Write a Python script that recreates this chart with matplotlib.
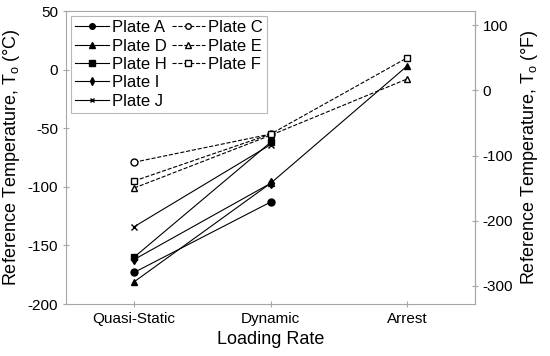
import numpy as np
import matplotlib.pyplot as plt
from matplotlib.lines import Line2D

plt.rcParams['font.family'] = ['Liberation Sans', 'DejaVu Sans']
plt.rcParams['axes.unicode_minus'] = False

rates = ['Quasi-Static', 'Dynamic', 'Arrest']

# solid series (reference temperature, deg C)
plate_a = [-173, -113]
plate_d = [-181, -97, 3]
plate_h = [-160, -62]
plate_i = [-162, -97]
plate_j = [-134, -64]
# dashed series
plate_c = [-79, -55]
plate_e = [-101, -56, -8]
plate_f = [-95, -55, 10]

gray = '#a6a6a6'

fig, ax = plt.subplots(figsize=(5.5, 3.56), dpi=100)
fig.subplots_adjust(left=0.12, right=0.864, top=0.969, bottom=0.146)

x = np.arange(1, 4)
kw = dict(color='k', lw=0.8, ms=5)
la, = ax.plot(x[:2], plate_a, marker='o', label='Plate A', **kw)
lc, = ax.plot(x[:2], plate_c, marker='o', mfc='white', ls='--', label='Plate C', **kw)
ld, = ax.plot(x, plate_d, marker='^', label='Plate D', **kw)
le, = ax.plot(x, plate_e, marker='^', mfc='white', ls='--', label='Plate E', **kw)
lh, = ax.plot(x[:2], plate_h, marker='s', label='Plate H', **kw)
lf, = ax.plot(x, plate_f, marker='s', mfc='white', ls='--', label='Plate F', **kw)
li, = ax.plot(x[:2], plate_i, marker='d', label='Plate I', **kw)
lj, = ax.plot(x[:2], plate_j, marker='x', color='k', lw=0.8, ms=4, label='Plate J')

ax.set_xlim(0.5, 3.5)
ax.set_ylim(-200, 50)
ax.set_xticks(x)
ax.set_xticklabels(rates)
ax.set_yticks(np.arange(-200, 51, 50))
ax.set_xlabel('Loading Rate', fontsize=13)
ax.set_ylabel('Reference Temperature, T$_\\mathregular{o}$ (°C)', fontsize=13)
ax.tick_params(labelsize=11, color=gray, length=4, direction='inout')
for s in ax.spines.values():
    s.set_color(gray)

sec = ax.secondary_yaxis('right', functions=(lambda c: c * 9 / 5 + 32,
                                             lambda f: (f - 32) * 5 / 9))
sec.set_yticks([100, 0, -100, -200, -300])
sec.set_ylabel('Reference Temperature, T$_\\mathregular{o}$ (°F)', fontsize=13)
sec.tick_params(labelsize=11, color=gray, length=4, direction='inout')
sec.spines['right'].set_color(gray)

blank = Line2D([], [], ls='none')
handles = [la, ld, lh, li, lj, lc, le, lf, blank, blank]
labels = ['Plate A', 'Plate D', 'Plate H', 'Plate I', 'Plate J',
          'Plate C', 'Plate E', 'Plate F', '', '']
leg = ax.legend(handles, labels, ncol=2, loc='upper left', fontsize=12,
                handlelength=2.0, handletextpad=0.2, columnspacing=0.3,
                labelspacing=0.2, borderpad=0.25, fancybox=False,
                borderaxespad=0.3, markerscale=0.8)
leg.get_frame().set_edgecolor(gray)
leg.get_frame().set_linewidth(0.8)

plt.savefig('out.png')
